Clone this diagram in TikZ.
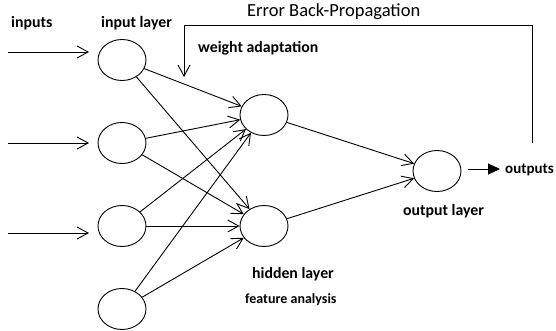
\documentclass[tikz,border=0pt]{standalone}
\usepackage{fontspec}
\setmainfont{Carlito}
\usetikzlibrary{arrows.meta,shapes.geometric}
\tikzset{
  neuron/.style={draw, ellipse, line width=0.9pt, minimum width=48pt, minimum height=41pt, inner sep=0pt},
  conn/.style={line width=0.9pt, -{Straight Barb[length=11pt,width=12pt,line width=0.9pt]}},
  lbl/.style={font=\bfseries\fontsize{15.8}{18}\selectfont, anchor=base west, inner sep=0pt},
  small/.style={font=\bfseries\fontsize{14}{16}\selectfont, anchor=base west, inner sep=0pt},
  title/.style={font=\fontsize{18.5}{21}\selectfont, anchor=base west, inner sep=0pt},
}
\begin{document}
\begin{tikzpicture}[x=1pt,y=-1pt]
\useasboundingbox (0,0) rectangle (556,331);
% neurons
\node[neuron] (i1) at (122,60) {};
\node[neuron] (i2) at (122,143) {};
\node[neuron] (i3) at (122,226) {};
\node[neuron] (i4) at (122,309) {};
\node[neuron] (h1) at (264,115) {};
\node[neuron] (h2) at (264,226) {};
\node[neuron] (o) at (437,171) {};
% input arrows
\coordinate (a1s) at (8,52);  \coordinate (a1e) at (89,52);
\coordinate (a2s) at (8,143); \coordinate (a2e) at (89,143);
\coordinate (a3s) at (8,233); \coordinate (a3e) at (89,233);
\draw[conn] (a1s) -- (a1e);
\draw[conn] (a2s) -- (a2e);
\draw[conn] (a3s) -- (a3e);
% input -> hidden
\foreach \i in {i1,i2,i3,i4}{
  \draw[conn] (\i) -- (h1);
  \draw[conn] (\i) -- (h2);
}
% hidden -> output
\draw[conn] (h1) -- (o);
\draw[conn] (h2) -- (o);
% output arrow
\coordinate (os) at (468,169);
\coordinate (oe) at (500,169);
\draw[line width=0.9pt, -{Triangle[length=12pt,width=11pt]}] (os) -- (oe);
% feedback
\coordinate (f0) at (532,143);
\coordinate (f1) at (532,25);
\coordinate (f2) at (184,25);
\coordinate (f3) at (184,77);
\draw[conn] (f0) -- (f1) -- (f2) -- (f3);
% labels
\node[lbl] (tin) at (11,28) {inputs};
\node[lbl] (til) at (101,28) {input layer};
\node[title] (terr) at (247,17) {Error Back-Propagation};
\node[lbl] (twa) at (198,53) {weight adaptation};
\node[lbl] (thl) at (252,278) {hidden layer};
\node[small] (tfa) at (245,303) {feature analysis};
\node[lbl] (tol) at (403,215) {output layer};
\node[lbl, font=\bfseries\fontsize{15}{18}\selectfont] (tout) at (505,173) {outputs};
\end{tikzpicture}
\end{document}
